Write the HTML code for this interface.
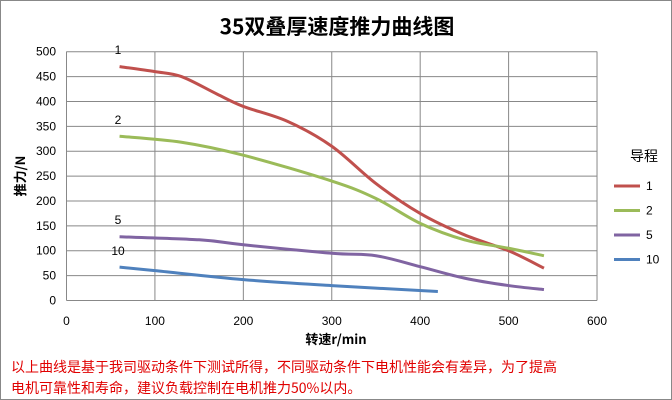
<!DOCTYPE html><html><head><meta charset="utf-8"><style>
body{margin:0;background:#fff}
#c{position:relative;width:670px;height:398px;border:1px solid #888;overflow:hidden;font-family:"Liberation Sans","Noto Sans CJK SC",sans-serif}
.t{position:absolute;white-space:nowrap}
</style></head><body><div id="c">
<svg id="s" width="672" height="400" style="position:absolute;left:-1px;top:-1px"></svg>
<div class="t" style="left:0;width:672px;text-align:center;top:10px;font-size:21px;font-weight:bold;font-family:'Noto Sans CJK SC',sans-serif">35双叠厚速度推力曲线图</div>
<div class="t" style="left:10px;top:356px;font-size:14px;color:#e00000;line-height:21px;font-family:'Noto Sans CJK SC',sans-serif">以上曲线是基于我司驱动条件下测试所得，不同驱动条件下电机性能会有差异，为了提高<br>电机可靠性和寿命，建议负载控制在电机推力50%以内。</div>
</div>
<script>
const s=document.getElementById('s');let h='';
const X=v=>66.5+v*0.8842,Y=v=>300.5-v*0.4976;
for(let i=0;i<=6;i++){let x=X(i*100);h+=`<line x1="${x}" y1="51.5" x2="${x}" y2="300.5" stroke="#888"/>`;h+=`<text x="${x}" y="325" font-size="12" text-anchor="middle">${i*100}</text>`}
for(let i=0;i<=10;i++){let y=Y(i*50);h+=`<line x1="66.5" y1="${y}" x2="597" y2="${y}" stroke="#888"/>`;h+=`<text x="56" y="${y+4}" font-size="12" text-anchor="end">${i*50}</text>`}
const ser=[["#c0504d",[[60,470],[100,460],[130,450],[170,415],[200,390],[250,360],[300,310],[350,235],[400,175],[450,132],[500,100],[540,65]]],
["#9bbb59",[[60,330],[130,318],[200,292],[300,240],[350,205],[400,155],[450,122],[500,105],[540,90]]],
["#8064a2",[[60,128],[150,122],[200,112],[300,95],[350,90],[400,68],[450,45],[500,30],[540,22]]],
["#4f81bd",[[60,67],[100,60],[200,42],[300,30],[420,18]]]];
ser.forEach(([c,p])=>{let q=p.map(a=>[X(a[0]),Y(a[1])]);let d=`M${q[0]}`;for(let i=0;i<q.length-1;i++){let p0=q[i-1]||q[i],p1=q[i],p2=q[i+1],p3=q[i+2]||p2;let c1=[p1[0]+(p2[0]-p0[0])/6,p1[1]+(p2[1]-p0[1])/6],c2=[p2[0]-(p3[0]-p1[0])/6,p2[1]-(p3[1]-p1[1])/6];d+=`C${c1} ${c2} ${p2}`}h+=`<path d="${d}" fill="none" stroke="${c}" stroke-width="3"/>`});
[["1",118,54],["2",118,124],["5",118,224],["10",118,255]].forEach(a=>h+=`<text x="${a[1]}" y="${a[2]}" font-size="12" text-anchor="middle">${a[0]}</text>`);
h+=`<text x="630" y="161" font-size="14" font-family="Noto Sans CJK SC">导程</text>`;
["1","2","5","10"].forEach((n,i)=>{let y=186+i*24.5;h+=`<line x1="614" y1="${y}" x2="640" y2="${y}" stroke="${ser[i][0]}" stroke-width="3"/><text x="646" y="${y+4}" font-size="12">${n}</text>`});
h+=`<text x="336" y="344" font-size="13" text-anchor="middle" font-weight="bold" font-family="Noto Sans CJK SC">转速r/min</text>`;
h+=`<text transform="translate(25,176) rotate(-90)" font-size="13" text-anchor="middle" font-weight="bold" font-family="Noto Sans CJK SC">推力/N</text>`;
s.innerHTML=h;
</script></body></html>
